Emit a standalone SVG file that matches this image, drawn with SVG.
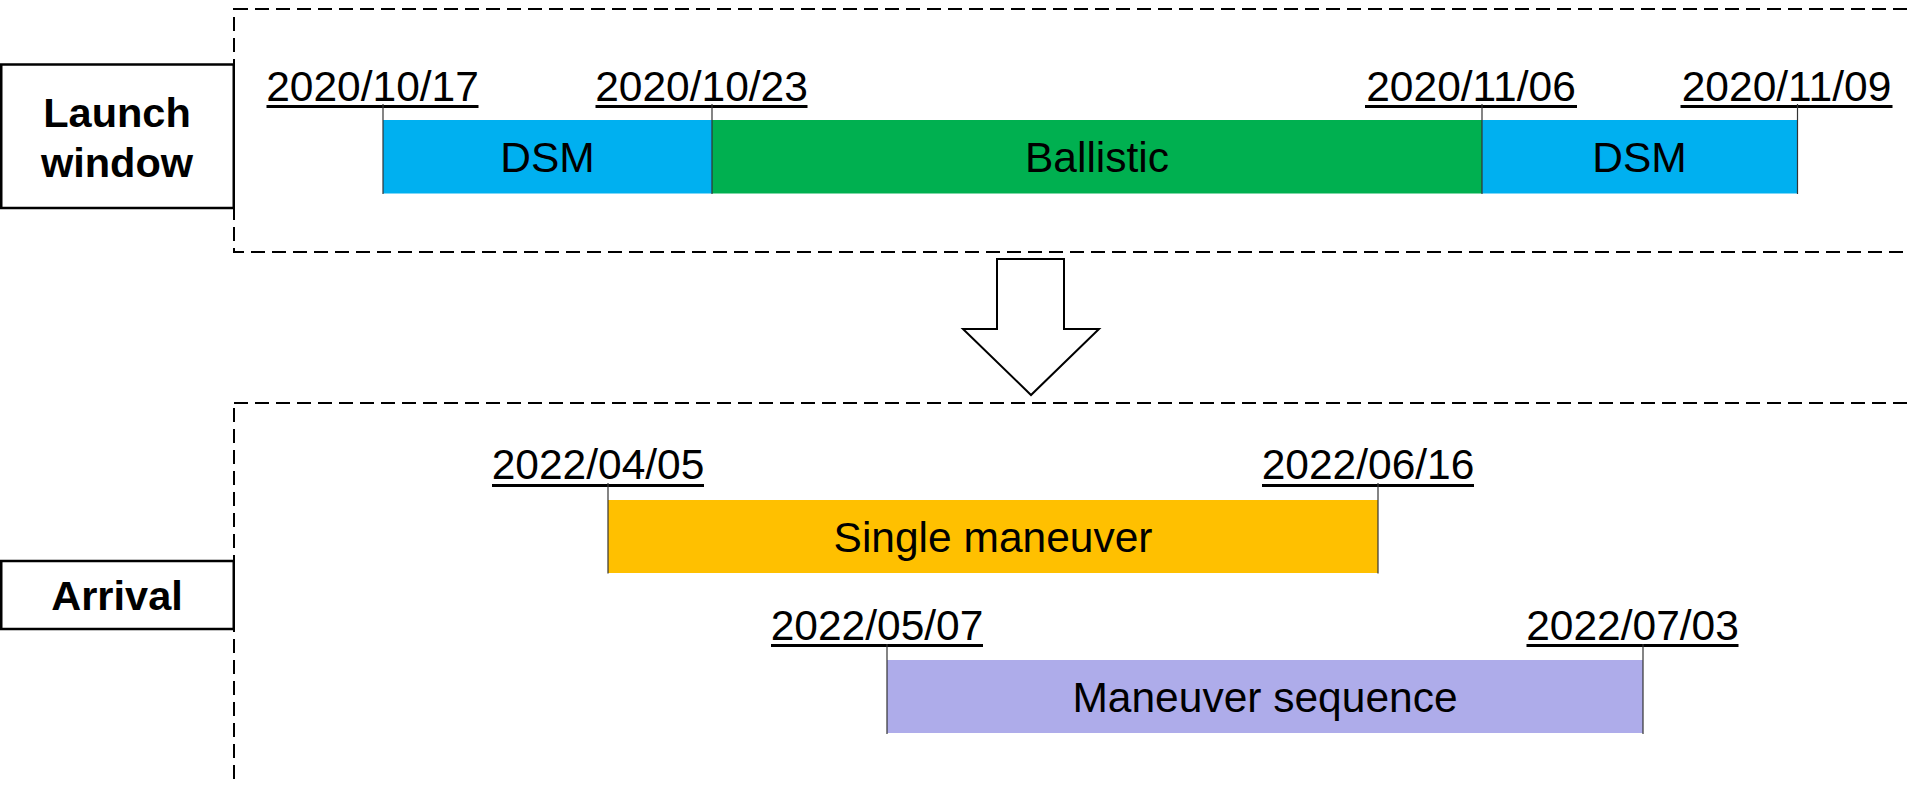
<svg xmlns="http://www.w3.org/2000/svg" width="1907" height="785" viewBox="0 0 1907 785">
  <style>
    .frame { fill: none; stroke: #000; stroke-width: 2; stroke-dasharray: 14 7; }
    .label { fill: #fff; stroke: #000; stroke-width: 2.5; }
    .head { font-family: "Liberation Sans", Arial, sans-serif; font-weight: bold; font-size: 41.5px; text-anchor: middle; fill: #000; }
    .date { font-family: "Liberation Sans", Arial, sans-serif; font-size: 42.5px; text-anchor: middle; fill: #000; }
    .bartxt { font-family: "Liberation Sans", Arial, sans-serif; font-size: 42.5px; text-anchor: middle; fill: #000; }
    .uline { stroke: #000; stroke-width: 3; }
    .tick { stroke: #333; stroke-width: 1.2; }
    .dsm { fill: #00B0F0; }
    .bal { fill: #00B050; }
    .sng { fill: #FFC000; }
    .seq { fill: #AEACEA; }
  </style>

  <g id="launch-frame">
    <rect class="frame" x="234" y="9" width="1700" height="243"/>
  </g>
  <g id="arrival-frame">
    <rect class="frame" x="234" y="403" width="1700" height="420"/>
  </g>

  <g id="launch-window">
    <rect class="label" x="1.25" y="64.5" width="232.5" height="143.5"/>
    <text class="head" x="117" y="127">Launch</text>
    <text class="head" x="117" y="177">window</text>
  </g>
  <g id="arrival">
    <rect class="label" x="1.25" y="561" width="232.5" height="68"/>
    <text class="head" x="117" y="610">Arrival</text>
  </g>

  <g id="bar-dsm1">
    <rect class="dsm" x="383" y="120" width="329" height="73.5"/>
    <text class="bartxt" x="547.5" y="172">DSM</text>
  </g>
  <g id="bar-ballistic">
    <rect class="bal" x="712" y="120" width="770" height="73.5"/>
    <text class="bartxt" x="1097" y="172">Ballistic</text>
  </g>
  <g id="bar-dsm2">
    <rect class="dsm" x="1482" y="120" width="315.5" height="73.5"/>
    <text class="bartxt" x="1639.5" y="172">DSM</text>
  </g>
  <g id="bar-single">
    <rect class="sng" x="608" y="500" width="770" height="73"/>
    <text class="bartxt" x="993" y="551.5">Single maneuver</text>
  </g>
  <g id="bar-sequence">
    <rect class="seq" x="887" y="660" width="756" height="73"/>
    <text class="bartxt" x="1265" y="711.5">Maneuver sequence</text>
  </g>

  <g id="date-20201017">
    <text class="date" x="372.5" y="101">2020/10/17</text>
    <line class="uline" x1="266.5" y1="106.5" x2="478.5" y2="106.5"/>
    <line class="tick" x1="383" y1="104" x2="383" y2="194"/>
  </g>
  <g id="date-20201023">
    <text class="date" x="701.5" y="101">2020/10/23</text>
    <line class="uline" x1="595.5" y1="106.5" x2="807.5" y2="106.5"/>
    <line class="tick" x1="712" y1="104" x2="712" y2="194"/>
  </g>
  <g id="date-20201106">
    <text class="date" x="1471" y="101">2020/11/06</text>
    <line class="uline" x1="1365" y1="106.5" x2="1577" y2="106.5"/>
    <line class="tick" x1="1482" y1="104" x2="1482" y2="194"/>
  </g>
  <g id="date-20201109">
    <text class="date" x="1786.5" y="101">2020/11/09</text>
    <line class="uline" x1="1680.5" y1="106.5" x2="1892.5" y2="106.5"/>
    <line class="tick" x1="1797.5" y1="104" x2="1797.5" y2="194"/>
  </g>
  <g id="date-20220405">
    <text class="date" x="598" y="479">2022/04/05</text>
    <line class="uline" x1="492" y1="485.5" x2="704" y2="485.5"/>
    <line class="tick" x1="608" y1="483" x2="608" y2="573.5"/>
  </g>
  <g id="date-20220616">
    <text class="date" x="1368" y="479">2022/06/16</text>
    <line class="uline" x1="1262" y1="485.5" x2="1474" y2="485.5"/>
    <line class="tick" x1="1378" y1="483" x2="1378" y2="573.5"/>
  </g>
  <g id="date-20220507">
    <text class="date" x="877" y="639.5">2022/05/07</text>
    <line class="uline" x1="771" y1="645.5" x2="983" y2="645.5"/>
    <line class="tick" x1="887" y1="644" x2="887" y2="734"/>
  </g>
  <g id="date-20220703">
    <text class="date" x="1632.5" y="639.5">2022/07/03</text>
    <line class="uline" x1="1526.5" y1="645.5" x2="1738.5" y2="645.5"/>
    <line class="tick" x1="1643" y1="644" x2="1643" y2="734"/>
  </g>

  <g id="connectors">
    <polygon points="997,259 1064,259 1064,329 1099,329 1031,395 963,329 997,329" fill="#fff" stroke="#000" stroke-width="2"/>
  </g>
</svg>
